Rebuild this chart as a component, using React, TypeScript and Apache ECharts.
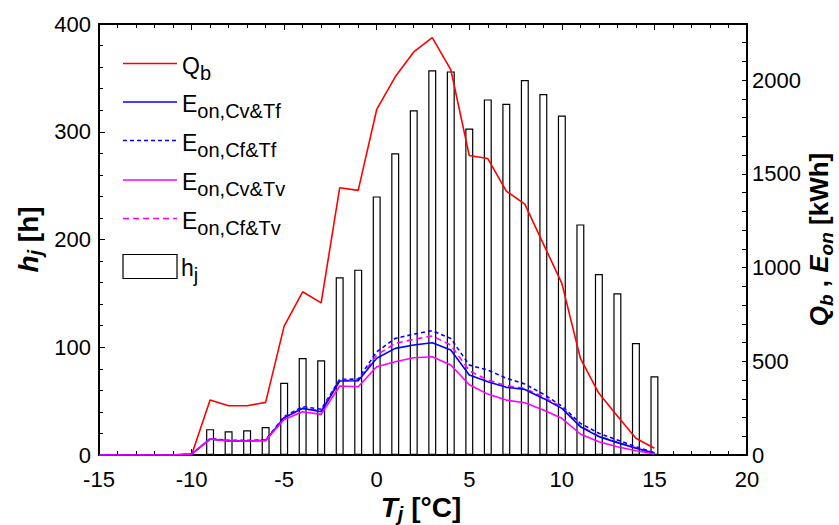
import React, { useEffect, useRef } from "react";
import * as echarts from "echarts";

// ---- data ----
const T_BARS = [-9, -8, -7, -6, -5, -4, -3, -2, -1, 0, 1, 2, 3, 4, 5, 6, 7, 8, 9, 10, 11, 12, 13, 14, 15];
const H_J = [24, 22, 23, 26, 67, 90, 88, 165, 172, 240, 280, 320, 357, 356, 303, 330, 326, 348, 335, 315, 214, 168, 150, 104, 73];

const T_LINES = [-15, -14, -13, -12, -11, -10, -9, -8, -7, -6, -5, -4, -3, -2, -1, 0, 1, 2, 3, 4, 5, 6, 7, 8, 9, 10, 11, 12, 13, 14, 15];
const Q_B = [0, 0, 0, 0, 0, 0, 293, 263, 263, 281, 688, 871, 812, 1426, 1412, 1844, 2018, 2151, 2227, 2057, 1598, 1582, 1408, 1339, 1127, 916, 516, 329, 208, 89, 36];
const E_CV_TF = [0, 0, 0, 0, 0, 5, 85, 75, 75, 78, 199, 249, 231, 395, 396, 516, 569, 587, 599, 560, 427, 391, 361, 350, 302, 249, 151, 98, 66, 36, 10];
const E_CF_TF = [0, 0, 0, 0, 0, 5, 88, 78, 78, 80, 205, 258, 244, 404, 405, 551, 622, 645, 663, 622, 480, 453, 410, 379, 325, 261, 169, 116, 80, 44, 12];
const E_CV_TV = [0, 0, 0, 0, 0, 5, 85, 75, 75, 77, 190, 231, 217, 368, 364, 471, 498, 519, 524, 480, 375, 325, 293, 279, 240, 196, 112, 71, 44, 23, 5];
const E_CF_TV = [0, 0, 0, 0, 0, 5, 86, 76, 76, 79, 200, 250, 236, 398, 398, 533, 596, 617, 635, 587, 450, 400, 370, 355, 310, 255, 155, 100, 68, 38, 10];

const X_TICKS = { min: -15, max: 20, interval: 5 };
const Y_LEFT = { min: 0, max: 400, interval: 100 };
const Y_RIGHT = { min: 0, max: 2300, interval: 100, labelStep: 500 };

const FONT = "'Liberation Sans', Arial, Helvetica, sans-serif";
const RED = "#ff0000";
const BLUE = "#0000ff";
const MAGENTA = "#ff00ff";

type Seg = { t: string; s: number; b?: boolean; i?: boolean; dy?: number };

let ctx: CanvasRenderingContext2D | null = null;
function measure(seg: Seg): number {
  if (!ctx) ctx = document.createElement("canvas").getContext("2d");
  if (!ctx) return seg.t.length * seg.s * 0.55;
  ctx.font = `${seg.i ? "italic " : ""}${seg.b ? "bold " : ""}${seg.s}px ${FONT}`;
  return ctx.measureText(seg.t).width;
}

function segElems(segs: Seg[], x0: number, y: number): any[] {
  let x = x0;
  const out: any[] = [];
  for (const sg of segs) {
    out.push({
      type: "text",
      x,
      y: y + (sg.dy || 0),
      style: {
        text: sg.t,
        fontSize: sg.s,
        fontFamily: FONT,
        fontWeight: sg.b ? "bold" : "normal",
        fontStyle: sg.i ? "italic" : "normal",
        fill: "#000",
        align: "left",
        verticalAlign: "middle",
      },
    });
    x += measure(sg);
  }
  return out;
}

function centered(segs: Seg[], cx: number, cy: number, rotation: number): any {
  const w = segs.reduce((a, sg) => a + measure(sg), 0);
  return {
    type: "group",
    x: cx,
    y: cy,
    rotation,
    children: segElems(segs, -w / 2, 0),
  };
}

export default function App() {
  const ref = useRef<HTMLDivElement>(null);
  useEffect(() => {
    if (!ref.current) return;
    const chart = echarts.init(ref.current, undefined, { renderer: "svg" });

    const lineSeries = (name: string, data: number[], color: string, dashed: boolean, dash: number[]) => ({
      name,
      type: "line",
      xAxisIndex: 0,
      yAxisIndex: 1,
      data: T_LINES.map((t, i) => [t, data[i]]),
      symbol: "none",
      showSymbol: false,
      lineStyle: { color, width: 1.6, type: dashed ? dash : "solid" },
      z: 5,
    });

    const legendX1 = 123;
    const legendX2 = 177;
    const textX = 182;
    const legendRows = [
      { y: 63.5, color: RED, dash: null as number[] | null, main: "Q", sub: "b" },
      { y: 102, color: BLUE, dash: null, main: "E", sub: "on,Cv&Tf" },
      { y: 140.5, color: BLUE, dash: [4, 3], main: "E", sub: "on,Cf&Tf" },
      { y: 180, color: MAGENTA, dash: null, main: "E", sub: "on,Cv&Tv" },
      { y: 218.5, color: MAGENTA, dash: [6, 4], main: "E", sub: "on,Cf&Tv" },
    ];
    const legendEls: any[] = [];
    legendRows.forEach((r) => {
      legendEls.push({
        type: "line",
        shape: { x1: legendX1, y1: r.y, x2: legendX2, y2: r.y },
        style: { stroke: r.color, lineWidth: 1.6, lineDash: r.dash || undefined },
      });
      legendEls.push(
        ...segElems(
          [
            { t: r.main, s: 23 },
            { t: r.sub, s: 20, dy: 7 },
          ],
          textX,
          r.y + 2
        )
      );
    });
    legendEls.push({
      type: "rect",
      shape: { x: 123, y: 254.5, width: 54, height: 24 },
      style: { fill: "#fff", stroke: "#000", lineWidth: 1.2 },
    });
    legendEls.push(
      ...segElems(
        [
          { t: "h", s: 23 },
          { t: "j", s: 20, dy: 7 },
        ],
        textX - 1,
        268
      )
    );

    const axisCommon = {
      axisLine: { show: true, onZero: false, lineStyle: { color: "#000", width: 2 } },
      axisTick: { show: true, inside: true, length: 6, lineStyle: { color: "#000", width: 1 } },
      minorTick: { show: true, splitNumber: 5, length: 4, lineStyle: { color: "#000", width: 1 } },
      splitLine: { show: false },
      minorSplitLine: { show: false },
    };
    const labelStyle = { fontSize: 22, color: "#000", fontFamily: FONT };

    chart.setOption({
      animation: false,
      backgroundColor: "#fff",
      grid: { left: 99, right: 92, top: 24, bottom: 70, containLabel: false },
      xAxis: [
        {
          type: "value",
          position: "bottom",
          ...X_TICKS,
          ...axisCommon,
          axisLabel: { ...labelStyle, margin: 13 },
        },
        {
          type: "value",
          position: "top",
          ...X_TICKS,
          ...axisCommon,
          axisLabel: { show: false },
        },
      ],
      yAxis: [
        {
          type: "value",
          position: "left",
          ...Y_LEFT,
          ...axisCommon,
          axisLabel: { ...labelStyle, margin: 8 },
        },
        {
          type: "value",
          position: "right",
          min: Y_RIGHT.min,
          max: Y_RIGHT.max,
          interval: Y_RIGHT.interval,
          ...axisCommon,
          axisTick: { show: true, inside: true, length: 5, lineStyle: { color: "#000", width: 1 } },
          minorTick: { show: false },
          axisLabel: {
            ...labelStyle,
            margin: 5,
            formatter: (v: number) => (v % Y_RIGHT.labelStep === 0 ? String(v) : ""),
          },
        },
      ],
      series: [
        {
          name: "h_j",
          type: "bar",
          xAxisIndex: 0,
          yAxisIndex: 0,
          data: T_BARS.map((t, i) => [t, H_J[i]]),
          barWidth: 8,
          itemStyle: { color: "#fff", borderColor: "#000", borderWidth: 1.2 },
          z: 2,
        },
        lineSeries("Q_b", Q_B, RED, false, []),
        lineSeries("E_on,Cf&Tf", E_CF_TF, BLUE, true, [4, 3]),
        lineSeries("E_on,Cf&Tv", E_CF_TV, MAGENTA, true, [6, 4]),
        lineSeries("E_on,Cv&Tf", E_CV_TF, BLUE, false, []),
        lineSeries("E_on,Cv&Tv", E_CV_TV, MAGENTA, false, []),
      ],
      graphic: [
        ...legendEls,
        centered(
          [
            { t: "T", s: 28, b: true, i: true },
            { t: "j", s: 20, b: true, i: true, dy: 7 },
            { t: " [°C]", s: 28, b: true },
          ],
          421,
          507,
          0
        ),
        centered(
          [
            { t: "h", s: 28, b: true, i: true },
            { t: "j", s: 20, b: true, i: true, dy: 7 },
            { t: " [h]", s: 28, b: true },
          ],
          28,
          239.5,
          Math.PI / 2
        ),
        centered(
          [
            { t: "Q", s: 26, b: true, i: true },
            { t: "b", s: 19, b: true, i: true, dy: 7 },
            { t: " , ", s: 26, b: true },
            { t: "E", s: 26, b: true, i: true },
            { t: "on", s: 19, b: true, i: true, dy: 7 },
            { t: " [kWh]", s: 26, b: true },
          ],
          819,
          239.5,
          Math.PI / 2
        ),
      ],
    });
    return () => chart.dispose();
  }, []);
  return <div ref={ref} style={{ position: "fixed", left: 0, top: 0, width: 839, height: 525 }} />;
}
